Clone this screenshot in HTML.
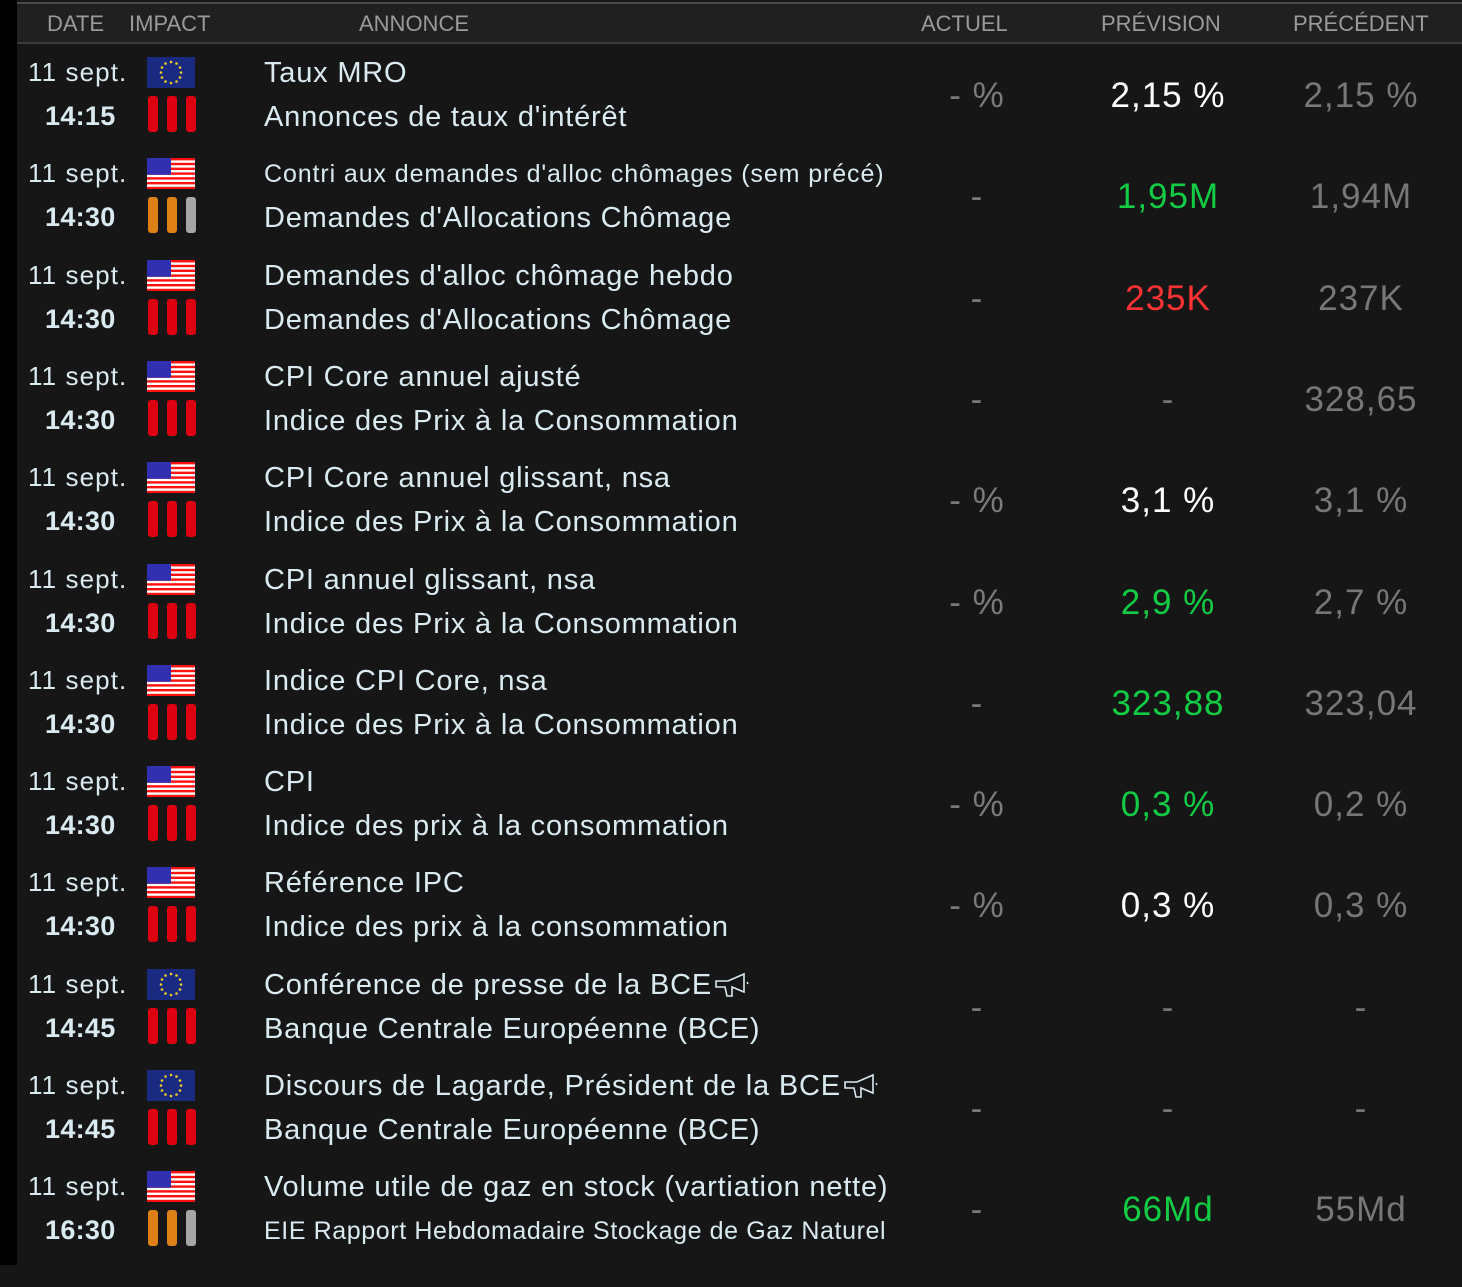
<!DOCTYPE html>
<html><head><meta charset="utf-8"><style>
*{margin:0;padding:0;box-sizing:border-box}
body{width:1462px;height:1265px;background:#161616;position:relative;overflow:hidden;font-family:"Liberation Sans",Arial,sans-serif}
#side{position:absolute;left:0;top:0;width:17px;height:1265px;background:#000}
#hdr{position:absolute;left:17px;top:2px;width:1445px;height:42px;background:#202020;border-top:2px solid #4a4a4a;border-bottom:2px solid #3a3a3a}
.h{position:absolute;top:1px;line-height:38px;font-size:22px;color:#9a9a9a}
.r{position:absolute;left:0;width:1462px;height:101px}
.t{position:absolute;white-space:nowrap;color:#d9eaf0;line-height:40px}
.d{left:28px;top:-20px;font-size:26px;letter-spacing:1.1px}
.tm{left:45px;top:24px;font-size:27px;font-weight:bold;letter-spacing:0.3px}
.a1{left:264px;top:-19px;font-size:29px;letter-spacing:0.8px}
.a2{left:264px;top:25px;font-size:29px;letter-spacing:0.8px}
.sm{font-size:25px;letter-spacing:0.9px}
.sm2{font-size:25px;letter-spacing:0.6px}
.v{position:absolute;top:4px;width:200px;text-align:center;font-size:35px;line-height:40px;white-space:nowrap;letter-spacing:1px}
.c1{left:877px;color:#7a7a7a}
.c2{left:1068px;color:#fff}
.c3{left:1261px;color:#777}
.g{color:#12cc44!important}.rd{color:#ff3333!important}.gr{color:#777!important}
.flag{position:absolute;left:147px;top:-15px;width:48px;height:31px}
.b{position:absolute;top:24px;width:10px;height:36px;border-radius:3px;background:#dd0011}
.b1{left:148px}.b2{left:167px}.b3{left:186px}
.o{background:#dd8016}.s{background:#a6a6a6}
</style></head><body>
<div id="side"></div>
<div id="hdr">
<div class="h" style="left:30px">DATE</div>
<div class="h" style="left:112px">IMPACT</div>
<div class="h" style="left:342px">ANNONCE</div>
<div class="h" style="left:904px">ACTUEL</div>
<div class="h" style="left:1084px">PRÉVISION</div>
<div class="h" style="left:1276px">PRÉCÉDENT</div>
</div>
<svg width="0" height="0" style="position:absolute">
<defs>
<g id="eu"><rect width="48" height="31" fill="#1a2a80"/><g fill="#f0d020">
<circle cx="24" cy="5" r="1.3"/><circle cx="29.5" cy="6.5" r="1.3"/><circle cx="33" cy="10.5" r="1.3"/><circle cx="34" cy="15.5" r="1.3"/><circle cx="33" cy="20.5" r="1.3"/><circle cx="29.5" cy="24.5" r="1.3"/><circle cx="24" cy="26" r="1.3"/><circle cx="18.5" cy="24.5" r="1.3"/><circle cx="15" cy="20.5" r="1.3"/><circle cx="14" cy="15.5" r="1.3"/><circle cx="15" cy="10.5" r="1.3"/><circle cx="18.5" cy="6.5" r="1.3"/></g></g>
<g id="us"><rect width="48" height="31" fill="#ff1010"/>
<g fill="#fff"><rect y="2.4" width="48" height="2.4"/><rect y="7.2" width="48" height="2.4"/><rect y="12" width="48" height="2.4"/><rect y="16.8" width="48" height="2.4"/><rect y="21.6" width="48" height="2.4"/><rect y="26.4" width="48" height="2.4"/></g>
<rect width="24" height="16.8" fill="#3030b0"/></g>
</defs></svg>
<div id="rows"></div>
<script>
const R=[
["eu","14:15","r","Taux MRO","Annonces de taux d'intérêt","- %","2,15 %","","2,15 %"],
["us","14:30","o","Contri aux demandes d'alloc chômages (sem précé)","Demandes d'Allocations Chômage","-","1,95M","g","1,94M",1],
["us","14:30","r","Demandes d'alloc chômage hebdo","Demandes d'Allocations Chômage","-","235K","rd","237K"],
["us","14:30","r","CPI Core annuel ajusté","Indice des Prix à la Consommation","-","-","gr","328,65"],
["us","14:30","r","CPI Core annuel glissant, nsa","Indice des Prix à la Consommation","- %","3,1 %","","3,1 %"],
["us","14:30","r","CPI annuel glissant, nsa","Indice des Prix à la Consommation","- %","2,9 %","g","2,7 %"],
["us","14:30","r","Indice CPI Core, nsa","Indice des Prix à la Consommation","-","323,88","g","323,04"],
["us","14:30","r","CPI","Indice des prix à la consommation","- %","0,3 %","g","0,2 %"],
["us","14:30","r","Référence IPC","Indice des prix à la consommation","- %","0,3 %","","0,3 %"],
["eu","14:45","r","Conférence de presse de la BCE","Banque Centrale Européenne (BCE)","-","-","gr","-",0,1],
["eu","14:45","r","Discours de Lagarde, Président de la BCE","Banque Centrale Européenne (BCE)","-","-","gr","-",0,1],
["us","16:30","o","Volume utile de gaz en stock (vartiation nette)","EIE Rapport Hebdomadaire Stockage de Gaz Naturel","-","66Md","g","55Md",2]];
const mega='<svg width="38" height="26" viewBox="0 0 38 26" style="vertical-align:-4px;margin-left:2px"><path d="M2 9 L14 9 L30 2 L30 20 L18 15 L18 24 L13 24 L11 15 L2 15 Z" fill="none" stroke="#d9eaf0" stroke-width="1.6"/><path d="M33 10 L34 12" stroke="#d9eaf0" stroke-width="1.5"/></svg>';
let h='';
R.forEach((r,i)=>{
const y=72+i*101.3;
const bars=r[2]=='r'?['','','']:['o','o','s'];
h+=`<div class="r" style="top:${y}px">
<div class="t d">11 sept.</div><div class="t tm">${r[1]}</div>
<svg class="flag" viewBox="0 0 48 31"><use href="#${r[0]}"/></svg>
<div class="b b1 ${bars[0]}"></div><div class="b b2 ${bars[1]}"></div><div class="b b3 ${bars[2]}"></div>
<div class="t a1 ${r[9]==1?'sm':''}">${r[3]}${r[10]?mega:''}</div>
<div class="t a2 ${r[9]==2?'sm2':''}">${r[4]}</div>
<div class="v c1">${r[5]}</div><div class="v c2 ${r[7]}">${r[6]}</div><div class="v c3">${r[8]}</div>
</div>`;});
document.getElementById('rows').innerHTML=h;
</script>
</body></html>
